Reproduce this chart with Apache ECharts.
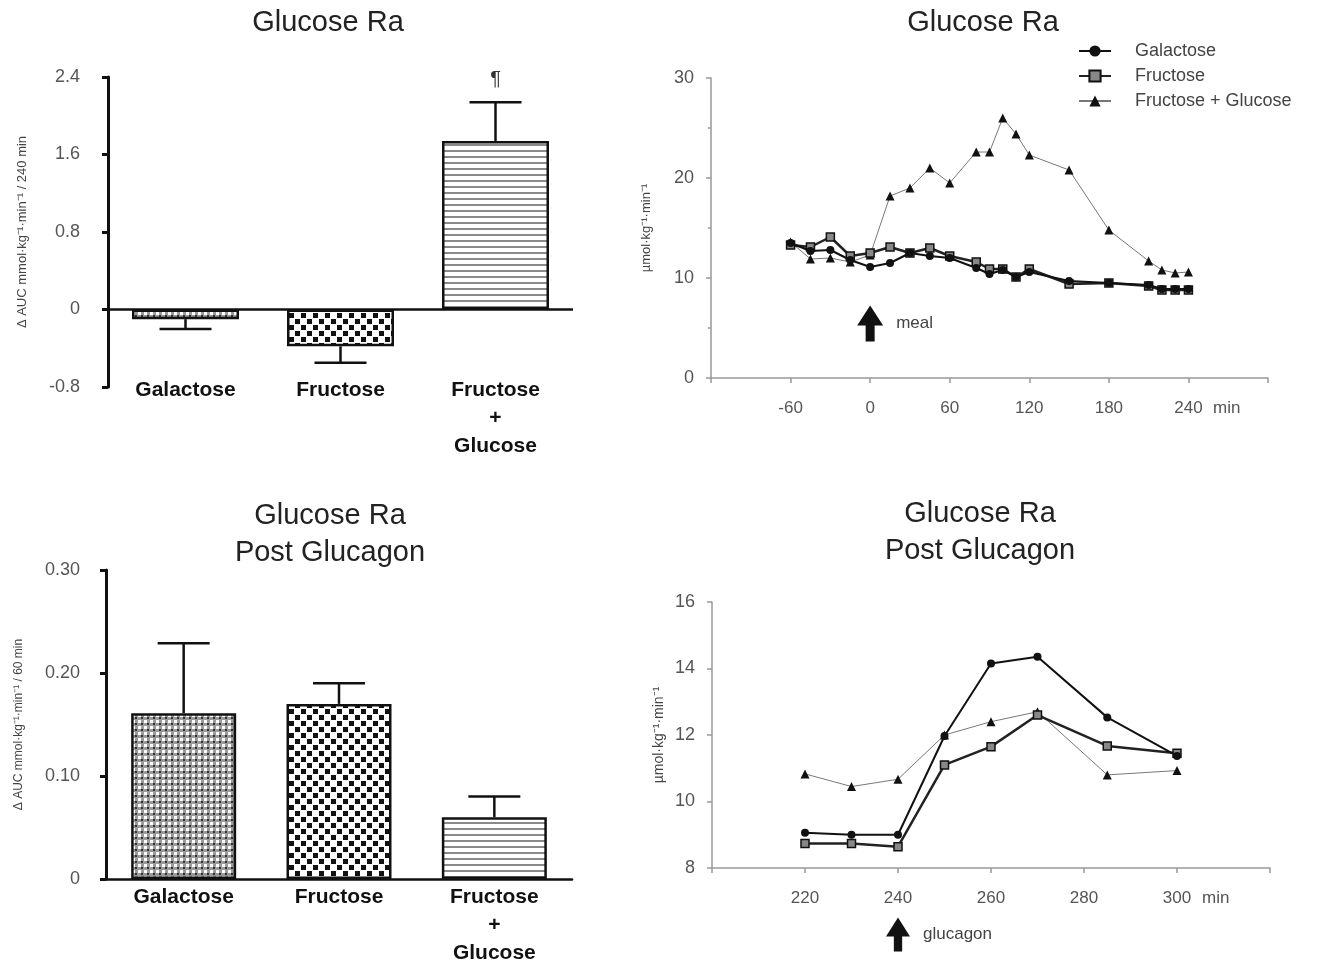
<!DOCTYPE html>
<html lang="en">
<head>
<meta charset="UTF-8">
<title>Glucose Ra</title>
<script src="https://cdn.jsdelivr.net/npm/echarts@6.0.0/dist/echarts.min.js"></script>
<style>
    html, body { margin: 0; padding: 0; background: #fff; }
    #main { width: 1326px; height: 964px; }
</style>
</head>
<body>
<div id="main"></div>
<script type="text/javascript">
    // ---- data ----
    var barCats = ['Galactose', 'Fructose', 'Fructose\n+\nGlucose'];
    var auc240 = [-0.10, -0.38, 1.74];
    var auc240Err = [-0.20, -0.55, 2.14];   // end of the error bar
    var auc240Sig = ['', '', '¶'];
    var auc60 = [0.161, 0.170, 0.060];
    var auc60Err = [0.229, 0.190, 0.080];

    var seriesNames = ['Galactose', 'Fructose', 'Fructose + Glucose'];

    var mealTimes = [-60, -45, -30, -15, 0, 15, 30, 45, 60, 80, 90, 100, 110, 120, 150, 180, 210, 220, 230, 240];
    var mealGalactose = [13.5, 12.7, 12.8, 11.8, 11.1, 11.5, 12.5, 12.2, 12.0, 11.0, 10.4, 10.8, 10.1, 10.6, 9.7, 9.5, 9.3, 8.9, 8.9, 8.9];
    var mealFructose = [13.3, 13.1, 14.1, 12.2, 12.5, 13.1, 12.5, 13.0, 12.2, 11.6, 10.9, 10.9, 10.1, 10.9, 9.4, 9.5, 9.2, 8.8, 8.8, 8.8];
    var mealFrucGluc = [13.6, 11.9, 12.0, 11.6, 12.3, 18.2, 19.0, 21.0, 19.5, 22.6, 22.6, 26.0, 24.4, 22.3, 20.8, 14.8, 11.7, 10.8, 10.5, 10.6];

    var glucTimes = [220, 230, 240, 250, 260, 270, 285, 300];
    var glucGalactose = [9.06, 9.0, 9.0, 11.97, 14.15, 14.35, 12.53, 11.37];
    var glucFructose = [8.74, 8.74, 8.64, 11.1, 11.65, 12.6, 11.67, 11.45];
    var glucFrucGluc = [10.83, 10.45, 10.67, 12.0, 12.4, 12.7, 10.8, 10.93];

    // arrow annotations: [time, level, text]
    var mealArrow = [0, 5.45, 'meal'];
    var glucagonArrow = [240, 6.0, 'glucagon'];

    var fontName = 'Liberation Sans';

    // small canvas tiles for the bar hatching
    function makePattern(w, h, draw) {
        var c = document.createElement('canvas');
        c.width = w;
        c.height = h;
        var ctx = c.getContext('2d');
        ctx.fillStyle = '#fff';
        ctx.fillRect(0, 0, w, h);
        draw(ctx);
        return { image: c, repeat: 'repeat' };
    }
    var dotFill = makePattern(6, 6, function (ctx) {
        ctx.fillStyle = '#9a9a9a';
        ctx.fillRect(0, 0, 6, 6);
        ctx.fillStyle = '#fff';
        ctx.fillRect(0, 0, 3, 3);
        ctx.fillStyle = '#333';
        ctx.fillRect(3, 3, 2, 2);
    });
    var checkFill = makePattern(12, 12, function (ctx) {
        ctx.fillStyle = '#111';
        ctx.fillRect(1, 1, 5, 5);
        ctx.fillRect(7, 7, 5, 5);
    });
    var stripeFill = makePattern(4, 6, function (ctx) {
        ctx.fillStyle = '#8a8a8a';
        ctx.fillRect(0, 0, 4, 2);
    });
    var barFills = [dotFill, checkFill, stripeFill];

    function barData(values) {
        return values.map(function (v, i) {
            return { value: v, itemStyle: { color: barFills[i] } };
        });
    }

    function errData(values, ends) {
        return values.map(function (v, i) {
            return [i, v, ends[i]];
        });
    }

    function pairs(xs, ys) {
        return xs.map(function (x, i) {
            return [x, ys[i]];
        });
    }

    function makeErrorRender(marks) {
        return function (params, api) {
            var x = api.value(0);
            var p0 = api.coord([x, api.value(1)]);
            var p1 = api.coord([x, api.value(2)]);
            var half = 26;
            var st = { stroke: '#111', lineWidth: 2.5 };
            var children = [
                { type: 'line', shape: { x1: p0[0], y1: p0[1], x2: p1[0], y2: p1[1] }, style: st },
                { type: 'line', shape: { x1: p1[0] - half, y1: p1[1], x2: p1[0] + half, y2: p1[1] }, style: st }
            ];
            var m = marks ? marks[params.dataIndex] : '';
            if (m) {
                children.push({
                    type: 'text', x: p1[0], y: p1[1] - 23,
                    style: { text: m, align: 'center', verticalAlign: 'middle', font: '20px "' + fontName + '"', fill: '#333' }
                });
            }
            return { type: 'group', children: children };
        };
    }

    var arrowPath = 'path://M13,0 L26,20 L17.5,20 L17.5,36 L8.5,36 L8.5,20 L0,20 Z';

    function arrowSeries(axisIdx, arrow, size) {
        return {
            name: arrow[2], type: 'scatter', xAxisIndex: axisIdx, yAxisIndex: axisIdx,
            clip: false, silent: true,
            symbol: arrowPath, symbolSize: size,
            itemStyle: { color: '#111', opacity: 1 },
            label: { show: true, position: 'right', distance: 13, formatter: arrow[2], color: '#444', fontSize: 17 },
            data: [[arrow[0], arrow[1]]]
        };
    }

    var lineStyles = [
        { lineStyle: { color: '#111', width: 2 }, symbol: 'circle', symbolSize: 8, itemStyle: { color: '#111' } },
        { lineStyle: { color: '#222', width: 2.5 }, symbol: 'rect', symbolSize: 8, itemStyle: { color: '#888', borderColor: '#111', borderWidth: 1.5 } },
        { lineStyle: { color: '#777', width: 1 }, symbol: 'triangle', symbolSize: 9, itemStyle: { color: '#111' } }
    ];

    function lineSeries(idx, axisIdx, data) {
        return {
            name: seriesNames[idx],
            type: 'line',
            xAxisIndex: axisIdx,
            yAxisIndex: axisIdx,
            data: data,
            lineStyle: lineStyles[idx].lineStyle,
            symbol: lineStyles[idx].symbol,
            symbolSize: lineStyles[idx].symbolSize,
            itemStyle: lineStyles[idx].itemStyle,
            z: 3 - idx
        };
    }

    function titleText(x, y, text) {
        return {
            type: 'text', x: x, y: y,
            style: {
                text: text, align: 'center', verticalAlign: 'middle',
                font: '29px "' + fontName + '"', fill: '#222', lineHeight: 37
            }
        };
    }

    var blackAxis = { show: true, onZero: false, lineStyle: { color: '#111', width: 3 } };
    var grayAxis = { show: true, onZero: false, lineStyle: { color: '#999', width: 1.5 } };
    var grayTick = { show: true, length: 5, lineStyle: { color: '#999', width: 1.5 } };
    var blackTick = { show: true, length: 6, lineStyle: { color: '#111', width: 3 } };

    var chart = echarts.init(document.getElementById('main'));
    var option = {
        animation: false,
        textStyle: { fontFamily: fontName },
        graphic: [
            titleText(328, 23, 'Glucose Ra'),
            titleText(983, 23, 'Glucose Ra'),
            titleText(330, 534, 'Glucose Ra\nPost Glucagon'),
            titleText(980, 532, 'Glucose Ra\nPost Glucagon')
        ],
        legend: {
            orient: 'vertical',
            left: 1073,
            top: 37,
            itemWidth: 32,
            itemHeight: 14,
            itemGap: 7,
            data: seriesNames,
            textStyle: { color: '#444', fontSize: 18, lineHeight: 17, padding: [0, 0, 0, 19] }
        },
        grid: [
            { left: 108, top: 77, width: 465, height: 310, outerBoundsMode: 'none' },
            { left: 711, top: 78, width: 557, height: 300, outerBoundsMode: 'none' },
            { left: 106, top: 570, width: 466, height: 309, outerBoundsMode: 'none' },
            { left: 712, top: 602, width: 558, height: 266, outerBoundsMode: 'none' }
        ],
        xAxis: [
            {
                gridIndex: 0, type: 'category', data: barCats,
                axisLine: { show: false, onZero: false }, axisTick: { show: false },
                axisLabel: { interval: 0, margin: -11, fontSize: 21, fontWeight: 'bold', color: '#111', lineHeight: 28 }
            },
            {
                gridIndex: 1, type: 'value', min: -120, max: 300, interval: 60,
                axisLine: grayAxis, axisTick: grayTick,
                axisLabel: {
                    margin: 22, color: '#555', fontSize: 17,
                    formatter: function (v) { return (v <= -120 || v >= 300) ? '' : String(v); }
                },
                splitLine: { show: false },
                name: 'min', nameLocation: 'end', nameGap: -55,
                nameTextStyle: { color: '#555', fontSize: 17, verticalAlign: 'top', align: 'left', padding: [22, 0, 0, 0] }
            },
            {
                gridIndex: 2, type: 'category', data: barCats,
                axisLine: { show: true, onZero: false, lineStyle: { color: '#111', width: 2.5 } }, axisTick: { show: false },
                axisLabel: { interval: 0, margin: 4, fontSize: 21, fontWeight: 'bold', color: '#111', lineHeight: 28 }
            },
            {
                gridIndex: 3, type: 'value', min: 200, max: 320, interval: 20,
                axisLine: grayAxis, axisTick: grayTick,
                axisLabel: {
                    margin: 22, color: '#555', fontSize: 17,
                    formatter: function (v) { return (v <= 200 || v >= 320) ? '' : String(v); }
                },
                splitLine: { show: false },
                name: 'min', nameLocation: 'end', nameGap: -68,
                nameTextStyle: { color: '#555', fontSize: 17, verticalAlign: 'top', align: 'left', padding: [22, 0, 0, 0] }
            }
        ],
        yAxis: [
            {
                gridIndex: 0, type: 'value', min: -0.8, max: 2.4, interval: 0.8,
                axisLine: blackAxis, axisTick: blackTick,
                axisLabel: {
                    color: '#555', fontSize: 18, margin: 28,
                    formatter: function (v) { return Math.abs(v) < 1e-9 ? '0' : v.toFixed(1); }
                },
                splitLine: { show: false },
                name: 'Δ AUC mmol·kg⁻¹·min⁻¹ / 240 min', nameLocation: 'middle', nameGap: 79,
                nameTextStyle: { color: '#444', fontSize: 13 }
            },
            {
                gridIndex: 1, type: 'value', min: 0, max: 30, interval: 10,
                axisLine: grayAxis, axisTick: grayTick,
                minorTick: { show: true, splitNumber: 2, length: 3, lineStyle: { color: '#999', width: 1.5 } },
                axisLabel: { color: '#555', fontSize: 18, margin: 17 },
                splitLine: { show: false },
                name: 'µmol·kg⁻¹·min⁻¹', nameLocation: 'middle', nameGap: 58,
                nameTextStyle: { color: '#444', fontSize: 13 }
            },
            {
                gridIndex: 2, type: 'value', min: 0, max: 0.3, interval: 0.1,
                axisLine: blackAxis, axisTick: blackTick,
                axisLabel: {
                    color: '#555', fontSize: 18, margin: 26,
                    formatter: function (v) { return Math.abs(v) < 1e-9 ? '0' : v.toFixed(2); }
                },
                splitLine: { show: false },
                name: 'Δ AUC mmol·kg⁻¹·min⁻¹ / 60 min', nameLocation: 'middle', nameGap: 81,
                nameTextStyle: { color: '#444', fontSize: 12 }
            },
            {
                gridIndex: 3, type: 'value', min: 8, max: 16, interval: 2,
                axisLine: grayAxis, axisTick: grayTick,
                axisLabel: { color: '#555', fontSize: 18, margin: 17 },
                splitLine: { show: false },
                name: 'µmol·kg⁻¹·min⁻¹', nameLocation: 'middle', nameGap: 46,
                nameTextStyle: { color: '#444', fontSize: 14 }
            }
        ],
        series: [
            {
                name: 'AUC 240', type: 'bar', xAxisIndex: 0, yAxisIndex: 0,
                barWidth: 107, data: barData(auc240),
                itemStyle: { borderColor: '#111', borderWidth: 2.5 },
                markLine: {
                    silent: true, symbol: 'none', label: { show: false },
                    lineStyle: { color: '#111', width: 2.5, type: 'solid' },
                    data: [{ yAxis: 0 }]
                }
            },
            {
                name: 'AUC 240 err', type: 'custom', xAxisIndex: 0, yAxisIndex: 0,
                renderItem: makeErrorRender(auc240Sig), data: errData(auc240, auc240Err), z: 3
            },
            lineSeries(0, 1, pairs(mealTimes, mealGalactose)),
            lineSeries(1, 1, pairs(mealTimes, mealFructose)),
            lineSeries(2, 1, pairs(mealTimes, mealFrucGluc)),
            arrowSeries(1, mealArrow, [26, 36]),
            {
                name: 'AUC 60', type: 'bar', xAxisIndex: 2, yAxisIndex: 2,
                barWidth: 105, data: barData(auc60),
                itemStyle: { borderColor: '#111', borderWidth: 2.5 }
            },
            {
                name: 'AUC 60 err', type: 'custom', xAxisIndex: 2, yAxisIndex: 2,
                renderItem: makeErrorRender(null), data: errData(auc60, auc60Err), z: 3
            },
            lineSeries(0, 3, pairs(glucTimes, glucGalactose)),
            lineSeries(1, 3, pairs(glucTimes, glucFructose)),
            lineSeries(2, 3, pairs(glucTimes, glucFrucGluc)),
            arrowSeries(3, glucagonArrow, [24, 34])
        ]
    };
    chart.setOption(option);
</script>
</body>
</html>
